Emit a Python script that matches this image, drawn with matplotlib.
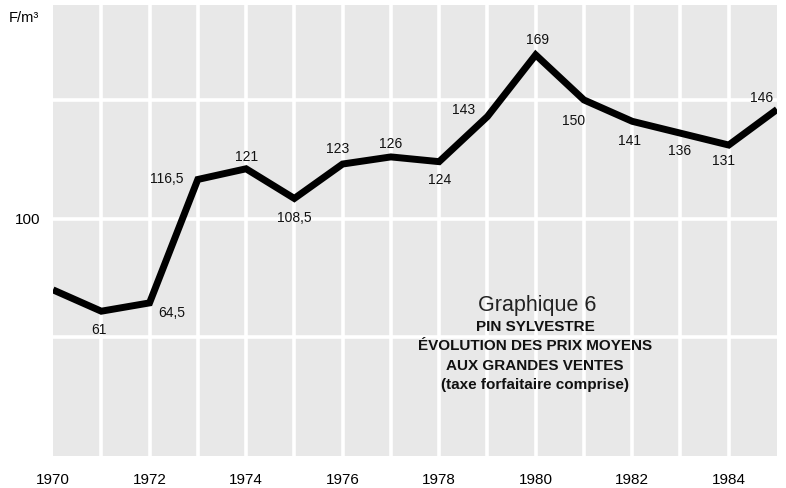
#!/usr/bin/env python3

# Pin sylvestre: evolution of average prices at the large sales, 1970-1985.
import matplotlib
matplotlib.use('Agg')
import matplotlib.pyplot as plt

# Data (F/m3)
years = [1970, 1971, 1972, 1973, 1974, 1975, 1976, 1977,
         1978, 1979, 1980, 1981, 1982, 1983, 1984, 1985]
prices = [70, 61, 64.5, 116.5, 121, 108.5, 123, 126,
          124, 143, 169, 150, 141, 136, 131, 146]
price_labels = [None, '61', '64,5', '116,5', '121', '108,5', '123', '126',
                '124', '143', '169', '150', '141', '136', '131', '146']
tick_years = [1970, 1972, 1974, 1976, 1978, 1980, 1982, 1984]
title_lines = ['PIN SYLVESTRE', 'ÉVOLUTION DES PRIX MOYENS',
               'AUX GRANDES VENTES', '(taxe forfaitaire comprise)']

# label offsets in pixels (dx, dy), dy positive = up
label_offsets = [None, (-2, -19), (22, -10), (-14, 0), (0, 12), (0, -20),
                 (-5, 15), (0, 13), (0, -18), (-24, 7), (2, 15), (-10, -21),
                 (-3, -20), (-1, -18), (-5, -16), (-15, 11)]

plt.rcParams['font.family'] = ['Liberation Sans', 'DejaVu Sans']

fig = plt.figure(figsize=(7.86, 4.88), dpi=100)
ax = fig.add_axes([53 / 786, 1 - 456 / 488, 724 / 786, 451 / 488])

# grey cells separated by white lines
ax.set_facecolor('#e8e8e8')
for y in [50, 100, 150]:
    ax.axhline(y, color='white', lw=2.6, zorder=1)
for x in years[1:-1]:
    ax.axvline(x, color='white', lw=2.6, zorder=1)
for s in ax.spines.values():
    s.set_visible(False)

ax.plot(years, prices, color='black', lw=5, solid_joinstyle='miter',
        solid_capstyle='butt', zorder=3)

px = 0.72  # points per pixel
for x, y, lab, off in zip(years, prices, price_labels, label_offsets):
    if lab is None:
        continue
    ha = 'right' if lab == '116,5' else 'center'
    ax.annotate(lab, (x, y), xytext=(off[0] * px, off[1] * px),
                textcoords='offset points', ha=ha, va='center',
                fontsize=10, color='#111111', zorder=4)

ax.set_xlim(1970, 1985)
ax.set_ylim(0, 190)
ax.set_xticks(tick_years)
ax.set_xticklabels([str(y) for y in tick_years], fontsize=11)
ax.set_yticks([100])
ax.set_yticklabels(['100'], fontsize=11)
ax.tick_params(length=0)
ax.tick_params(axis='x', pad=12)
ax.tick_params(axis='y', pad=9)

fig.text(9 / 786, 1 - 18 / 488, 'F/m³', fontsize=10.5, va='center', ha='left')

# caption inside the chart
fig.text(537 / 786, 1 - 305 / 488, 'Graphique 6', fontsize=15.5, ha='center',
         va='center', color='#222222')
for i, line in enumerate(title_lines):
    fig.text(535 / 786, 1 - (327 + i * 19.5) / 488, line, fontsize=11,
             ha='center', va='center', fontweight='bold',
             fontstretch='condensed',
             family=['Liberation Sans Narrow', 'Liberation Sans', 'DejaVu Sans'],
             color='#111111')

plt.savefig('out.png', dpi=100)
